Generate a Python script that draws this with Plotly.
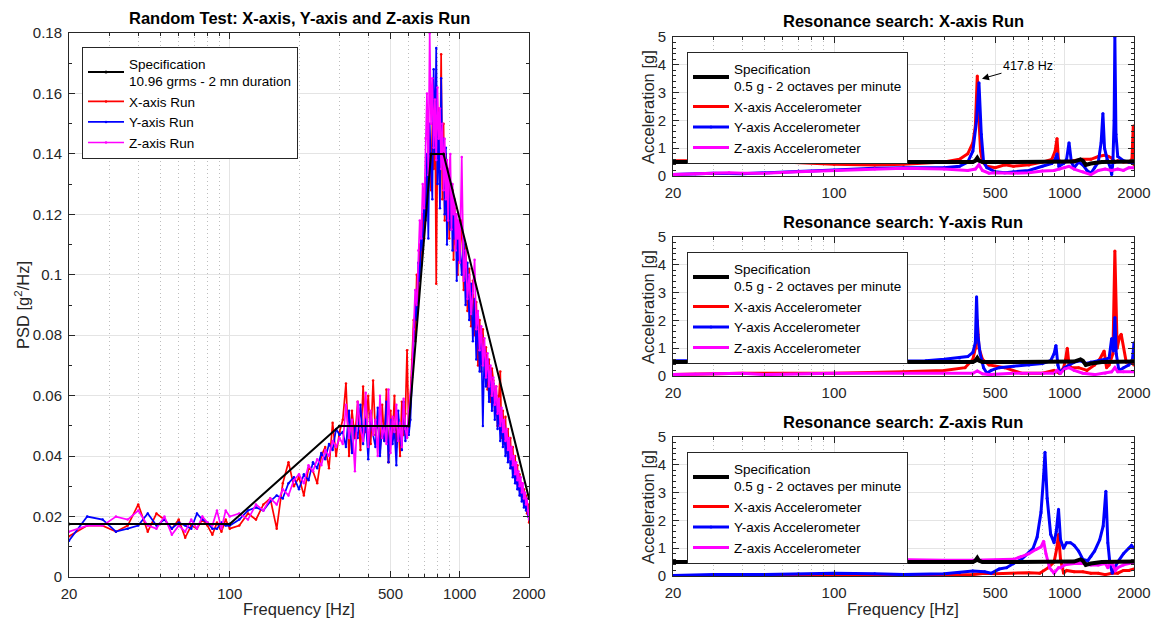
import plotly.graph_objects as go
import math

# ---------------- Random test (PSD) data ----------------
freq_psd = [20, 24, 28, 32, 36, 40, 44, 48, 52, 56, 60, 64, 68, 72, 76, 80, 84, 88, 92, 96, 100,
            110, 120, 130, 140, 150, 160, 170, 180, 190, 200, 210, 220, 230, 240, 250, 260, 270, 280, 290, 300,
            310, 320, 330, 340, 350, 360, 370, 380, 390, 400, 410, 420, 430, 440, 450, 460, 470, 480, 490, 500,
            510, 520, 530, 540, 550, 560, 570, 580, 590, 600,
            610, 620, 630, 640, 650, 660, 670, 680, 690, 700, 710, 720, 730, 740, 750, 760, 770, 780, 790, 800,
            810, 820, 830, 840, 850, 860, 870, 880, 890, 900, 910, 920, 930, 940, 950, 960, 970, 980, 990, 1000,
            1020, 1040, 1060, 1080, 1100, 1120, 1140, 1160, 1180, 1200, 1220, 1240, 1260, 1280, 1300, 1320, 1340,
            1360, 1380, 1400, 1420, 1440, 1460, 1480, 1500, 1520, 1540, 1560, 1580, 1600, 1620, 1640, 1660, 1680,
            1700, 1720, 1740, 1760, 1780, 1800, 1820, 1840, 1860, 1880, 1900, 1920, 1940, 1960, 1980, 2000]

psd_x_run = [0.0135, 0.017, 0.017, 0.015, 0.017, 0.024, 0.015, 0.021, 0.019, 0.016, 0.019, 0.013, 0.017, 0.016, 0.019, 0.017, 0.014, 0.018, 0.015, 0.019, 0.016,
             0.017, 0.021, 0.019, 0.024, 0.026, 0.016, 0.031, 0.038, 0.030, 0.033, 0.027, 0.036, 0.035, 0.031, 0.040, 0.043, 0.036, 0.051, 0.040, 0.048,
             0.052, 0.064, 0.040, 0.055, 0.046, 0.058, 0.042, 0.063, 0.048, 0.060, 0.044, 0.065, 0.047, 0.053, 0.041, 0.057, 0.045, 0.062, 0.038, 0.055,
             0.046, 0.060, 0.043, 0.052, 0.040, 0.058, 0.047, 0.054, 0.075, 0.048,
             0.058, 0.072, 0.085, 0.078, 0.100, 0.092, 0.110, 0.103, 0.120, 0.112, 0.132, 0.125, 0.145, 0.138, 0.128, 0.150, 0.135, 0.160, 0.097, 0.142,
             0.155, 0.130, 0.173, 0.125, 0.150, 0.118, 0.140, 0.128, 0.135, 0.112, 0.130, 0.120, 0.128, 0.105, 0.122, 0.110, 0.118, 0.100, 0.115, 0.108,
             0.118, 0.095, 0.110, 0.088, 0.102, 0.083, 0.098, 0.080, 0.091, 0.070, 0.085, 0.068, 0.082, 0.071, 0.076, 0.062, 0.072,
             0.058, 0.069, 0.065, 0.055, 0.063, 0.050, 0.060, 0.068, 0.046, 0.055, 0.044, 0.053, 0.041, 0.049, 0.040, 0.046, 0.036,
             0.043, 0.034, 0.040, 0.031, 0.037, 0.029, 0.034, 0.027, 0.031, 0.026, 0.029, 0.024, 0.027, 0.021, 0.024, 0.018]

psd_y_run = [0.012, 0.020, 0.019, 0.015, 0.016, 0.017, 0.021, 0.017, 0.019, 0.016, 0.018, 0.017, 0.016, 0.021, 0.019, 0.018, 0.016, 0.016, 0.018, 0.017, 0.017,
             0.019, 0.022, 0.023, 0.022, 0.025, 0.027, 0.026, 0.031, 0.033, 0.029, 0.034, 0.032, 0.038, 0.036, 0.041, 0.039, 0.044, 0.042, 0.049, 0.047,
             0.048, 0.043, 0.055, 0.041, 0.050, 0.046, 0.057, 0.044, 0.052, 0.039, 0.054, 0.047, 0.043, 0.056, 0.040, 0.050, 0.045, 0.058, 0.038, 0.052,
             0.044, 0.049, 0.037, 0.055, 0.046, 0.042, 0.058, 0.045, 0.050, 0.047,
             0.052, 0.066, 0.075, 0.090, 0.085, 0.104, 0.098, 0.115, 0.108, 0.125, 0.118, 0.140, 0.112, 0.150, 0.135, 0.125, 0.168, 0.140, 0.175, 0.130,
             0.150, 0.122, 0.165, 0.138, 0.145, 0.120, 0.142, 0.110, 0.132, 0.125, 0.115, 0.130, 0.108, 0.125, 0.112, 0.120, 0.098, 0.115, 0.105, 0.110,
             0.100, 0.112, 0.090, 0.104, 0.085, 0.097, 0.078, 0.092, 0.072, 0.086, 0.068, 0.080, 0.050, 0.075, 0.063, 0.072, 0.058,
             0.068, 0.055, 0.064, 0.052, 0.060, 0.049, 0.057, 0.045, 0.053, 0.043, 0.050, 0.040, 0.046, 0.038, 0.043, 0.036, 0.040,
             0.033, 0.037, 0.031, 0.035, 0.029, 0.032, 0.027, 0.030, 0.025, 0.028, 0.023, 0.026, 0.022, 0.024, 0.020, 0.021]

psd_z_run = [0.015, 0.017, 0.017, 0.020, 0.019, 0.022, 0.017, 0.016, 0.020, 0.014, 0.017, 0.015, 0.019, 0.016, 0.020, 0.018, 0.017, 0.022, 0.016, 0.022, 0.020,
             0.021, 0.019, 0.024, 0.022, 0.026, 0.024, 0.029, 0.027, 0.032, 0.034, 0.031, 0.037, 0.035, 0.039, 0.037, 0.042, 0.040, 0.045, 0.043, 0.046,
             0.044, 0.057, 0.046, 0.052, 0.035, 0.058, 0.049, 0.045, 0.061, 0.043, 0.055, 0.047, 0.052, 0.040, 0.060, 0.046, 0.050, 0.044, 0.062, 0.041,
             0.053, 0.048, 0.057, 0.045, 0.051, 0.043, 0.059, 0.049, 0.046, 0.055,
             0.060, 0.068, 0.082, 0.095, 0.090, 0.108, 0.118, 0.112, 0.130, 0.122, 0.145, 0.160, 0.133, 0.180, 0.150, 0.165, 0.142, 0.158, 0.138, 0.162,
             0.145, 0.155, 0.135, 0.150, 0.128, 0.145, 0.125, 0.138, 0.118, 0.135, 0.140, 0.115, 0.130, 0.120, 0.125, 0.108, 0.120, 0.112, 0.118, 0.104,
             0.139, 0.098, 0.108, 0.092, 0.100, 0.087, 0.094, 0.105, 0.082, 0.088, 0.075, 0.083, 0.070, 0.079, 0.066, 0.074, 0.063,
             0.070, 0.060, 0.066, 0.057, 0.063, 0.054, 0.059, 0.050, 0.056, 0.048, 0.052, 0.045, 0.049, 0.042, 0.046, 0.039, 0.043,
             0.037, 0.040, 0.034, 0.038, 0.032, 0.035, 0.030, 0.033, 0.028, 0.031, 0.026, 0.028, 0.024, 0.026, 0.022, 0.019]

spec_psd_f = [20, 100, 300, 600, 750, 850, 2000]
spec_psd_v = [0.0175, 0.0175, 0.05, 0.05, 0.14, 0.14, 0.026]

# ---------------- Sine sweep (resonance search) data ----------------
spec_sine_f = [20, 400, 410, 418, 425, 440, 1100, 1172, 1200, 1235, 1300, 1450, 2000]
spec_sine_a = [0.5, 0.5, 0.55, 0.65, 0.55, 0.5, 0.52, 0.6, 0.55, 0.4, 0.45, 0.5, 0.52]

# X-axis run
xr_x_f = [20, 30, 40, 60, 100, 150, 200, 300, 350, 380, 400, 410, 418, 425, 432, 440, 460, 500, 550, 600,
          700, 800, 880, 910, 927, 940, 960, 1000, 1100, 1200, 1300, 1400, 1500, 1550, 1600, 1652, 1700, 1800, 1900, 1960,
          1985, 2000]
xr_x_a = [0.55, 0.56, 0.55, 0.5, 0.42, 0.4, 0.42, 0.5, 0.6, 0.8, 1.2, 1.8, 3.6, 2.0, 0.9, 0.5, 0.35, 0.3, 0.4, 0.35,
          0.4, 0.5, 0.6, 0.9, 1.35, 0.6, 0.5, 0.5, 0.55, 0.6, 0.6, 0.7, 0.75, 0.7, 0.65, 0.5, 0.55, 0.5, 0.5, 0.6,
          1.8, 0.4]
xr_y_f = [20, 25, 30, 40, 50, 70, 100, 150, 200, 300, 350, 380, 400, 415, 425, 435, 445, 460, 500, 550,
          600, 700, 800, 880, 910, 927, 945, 990, 1020, 1045, 1070, 1100, 1150, 1200, 1250, 1300, 1350, 1400, 1440, 1466,
          1490, 1530, 1580, 1600, 1620, 1640, 1652, 1670, 1700, 1800, 1900, 2000]
xr_y_a = [0.05, 0.08, 0.1, 0.08, 0.12, 0.18, 0.22, 0.28, 0.3, 0.3, 0.35, 0.5, 0.9, 2.0, 3.35, 1.5, 0.5, 0.3, 0.15, 0.12,
          0.15, 0.2, 0.35, 0.45, 0.6, 0.8, 0.35, 0.45, 0.6, 1.2, 0.5, 0.3, 0.5, 0.4, 0.2, 0.1, 0.3, 0.5, 1.2, 2.25,
          1.0, 0.6, 0.3, 0.05, 0.5, 2.0, 5.0, 1.5, 0.7, 0.55, 0.5, 0.45]
xr_z_f = [20, 25, 30, 35, 40, 50, 70, 100, 150, 200, 300, 380, 410, 425, 440, 470, 500, 600, 700, 800,
          900, 950, 1000, 1045, 1100, 1200, 1300, 1400, 1500, 1600, 1700, 1800, 1900, 2000]
xr_z_a = [0.05, 0.08, 0.1, 0.12, 0.1, 0.1, 0.15, 0.2, 0.25, 0.28, 0.25, 0.2, 0.25, 0.4, 0.2, 0.1, 0.12, 0.1, 0.12, 0.18,
          0.2, 0.25, 0.3, 0.35, 0.25, 0.15, 0.05, 0.2, 0.25, 0.2, 0.25, 0.2, 0.3, 0.3]

# Y-axis run
yr_x_f = [20, 30, 40, 60, 100, 200, 300, 370, 400, 410, 418, 425, 440, 470, 550, 650, 800, 900, 950, 990,
          1010, 1027, 1045, 1070, 1150, 1250, 1350, 1420, 1484, 1520, 1560, 1620, 1652, 1690, 1730, 1760, 1850, 1950, 2000]
yr_x_a = [0.05, 0.08, 0.1, 0.1, 0.1, 0.15, 0.2, 0.3, 0.6, 1.0, 2.0, 1.0, 0.6, 0.4, 0.3, 0.1, 0.1, 0.2, 0.1, 0.3,
          0.6, 1.0, 0.4, 0.3, 0.3, 0.2, 0.4, 0.6, 0.9, 0.3, 0.4, 0.8, 4.5, 1.0, 1.4, 1.5, 0.5, 0.5, 0.4]
yr_y_f = [20, 30, 50, 100, 200, 250, 300, 350, 380, 400, 410, 415, 420, 430, 445, 460, 480, 520, 600, 700,
          800, 870, 900, 917, 935, 955, 1000, 1100, 1172, 1235, 1300, 1400, 1500, 1560, 1600, 1630, 1652, 1675, 1720, 1800,
          1900, 1970, 2000]
yr_y_a = [0.55, 0.56, 0.55, 0.5, 0.52, 0.55, 0.6, 0.65, 0.7, 0.85, 1.2, 2.85, 1.5, 0.8, 0.3, 0.1, 0.2, 0.3, 0.35, 0.4,
          0.45, 0.55, 0.8, 1.1, 0.4, 0.1, 0.3, 0.5, 0.55, 0.45, 0.5, 0.55, 0.6, 0.65, 1.35, 0.9, 2.1, 0.8, 0.2, 0.3,
          0.4, 0.6, 1.2]
yr_z_f = [20, 25, 30, 40, 50, 60, 100, 200, 300, 400, 418, 440, 470, 600, 800, 900, 927, 960, 1000, 1045,
          1100, 1200, 1350, 1500, 1600, 1652, 1700, 1800, 2000]
yr_z_a = [0.05, 0.07, 0.1, 0.1, 0.05, 0.06, 0.1, 0.1, 0.1, 0.1, 0.18, 0.08, 0.05, 0.1, 0.1, 0.1, 0.2, 0.1, 0.25, 0.3,
          0.2, 0.1, 0.05, 0.1, 0.15, 0.3, 0.15, 0.15, 0.15]

# Z-axis run
zr_x_f = [20, 100, 200, 300, 400, 450, 500, 600, 700, 780, 850, 900, 925, 941, 960, 990, 1020, 1100, 1200, 1300,
          1400, 1500, 1600, 1700, 1800, 1900, 2000]
zr_x_a = [0.02, 0.02, 0.02, 0.02, 0.05, 0.1, 0.08, 0.1, 0.12, 0.1, 0.3, 0.5, 1.0, 1.5, 0.6, 0.1, 0.2, 0.15, 0.15, 0.1,
          0.1, 0.05, 0.1, 0.1, 0.2, 0.2, 0.25]
zr_y_f = [20, 30, 50, 70, 100, 150, 200, 300, 350, 400, 450, 480, 520, 560, 600, 650, 700, 730, 760, 790,
          811, 822, 840, 870, 900, 920, 941, 960, 990, 1020, 1060, 1100, 1150, 1200, 1260, 1300, 1350, 1420, 1470, 1510,
          1540, 1570, 1610, 1650, 1700, 1800, 1900, 1950, 2000]
zr_y_a = [0.02, 0.05, 0.05, 0.08, 0.1, 0.08, 0.05, 0.08, 0.12, 0.18, 0.15, 0.1, 0.25, 0.3, 0.45, 0.6, 0.85, 1.0, 1.4, 2.3,
          3.6, 4.45, 2.8, 1.5, 1.2, 1.6, 2.4, 1.3, 1.0, 1.2, 1.2, 1.1, 0.9, 0.6, 0.55, 0.7, 0.9, 1.3, 1.8, 3.05,
          1.2, 0.5, 0.1, 0.3, 0.5, 0.8, 1.0, 1.1, 1.0]
zr_z_f = [20, 30, 50, 60, 80, 100, 150, 200, 300, 400, 500, 600, 650, 700, 750, 790, 811, 830, 860, 880,
          900, 941, 960, 1000, 1100, 1200, 1300, 1400, 1500, 1540, 1580, 1620, 1660, 1700, 1800, 1900, 2000]
zr_z_a = [0.5, 0.5, 0.52, 0.58, 0.6, 0.62, 0.6, 0.58, 0.57, 0.57, 0.58, 0.6, 0.7, 0.8, 0.95, 1.05, 1.25, 0.8, 0.3, 0.2,
          0.1, 0.3, 0.3, 0.4, 0.45, 0.45, 0.4, 0.4, 0.45, 0.3, 0.5, 0.4, 0.2, 0.3, 0.4, 0.45, 0.5]

x_tickvals = [20, 100, 500, 1000, 2000]
x_ticktext = ["20", "100", "500", "1000", "2000"]
x_minor = [30, 40, 50, 60, 70, 80, 90, 200, 300, 400, 600, 700, 800, 900]

RED, BLUE, MAG, BLACK = "#ff0000", "#0000ff", "#ff00ff", "#000000"
AX = "#262626"
FONT = "Liberation Sans, Arial, Helvetica, sans-serif"

W, H = 1156, 623

def px_x(p):
    return p / W

def px_y(p):
    return 1 - p / H

fig = go.Figure()

# ---------- left panel ----------
for name, vals, col in [("X-axis Run", psd_x_run, RED), ("Y-axis Run", psd_y_run, BLUE), ("Z-axis Run", psd_z_run, MAG)]:
    fig.add_trace(go.Scatter(x=freq_psd, y=vals, name=name, mode="lines+markers",
                             line=dict(color=col, width=1.7), marker=dict(size=2.5, color=col),
                             xaxis="x", yaxis="y", legend="legend", legendrank=2))
fig.add_trace(go.Scatter(x=spec_psd_f, y=spec_psd_v, name="Specification<br>10.96 grms - 2 mn duration",
                         mode="lines+markers", line=dict(color=BLACK, width=2), marker=dict(size=3, color=BLACK),
                         xaxis="x", yaxis="y", legend="legend", legendrank=1))

# ---------- right panels ----------
panels = [
    (2, "legend2", [(xr_x_f, xr_x_a), (xr_y_f, xr_y_a), (xr_z_f, xr_z_a)]),
    (3, "legend3", [(yr_x_f, yr_x_a), (yr_y_f, yr_y_a), (yr_z_f, yr_z_a)]),
    (4, "legend4", [(zr_x_f, zr_x_a), (zr_y_f, zr_y_a), (zr_z_f, zr_z_a)]),
]
names = ["X-axis Accelerometer", "Y-axis Accelerometer", "Z-axis Accelerometer"]
cols = [RED, BLUE, MAG]
for idx, leg, series in panels:
    for (f, a), nm, col in zip(series, names, cols):
        fig.add_trace(go.Scatter(x=f, y=a, name=nm, mode="lines+markers",
                                 line=dict(color=col, width=3), marker=dict(size=3, color=col),
                                 xaxis=f"x{idx}", yaxis=f"y{idx}", legend=leg, legendrank=2))
    fig.add_trace(go.Scatter(x=spec_sine_f, y=spec_sine_a, name="Specification<br>0.5 g - 2 octaves per minute",
                             mode="lines+markers", line=dict(color=BLACK, width=4), marker=dict(size=3, color=BLACK),
                             xaxis=f"x{idx}", yaxis=f"y{idx}", legend=leg, legendrank=1))

def xaxis(domain, anchor):
    return dict(type="log", domain=domain, anchor=anchor, automargin=False,
                range=[math.log10(20), math.log10(2000)],
                tickmode="array", tickvals=x_tickvals, ticktext=x_ticktext,
                ticks="inside", ticklen=6, tickcolor=AX, tickwidth=1, ticklabelstandoff=3,
                showline=True, linecolor=AX, linewidth=1, mirror="ticks",
                showgrid=True, gridcolor="#e4e4e4", gridwidth=1, zeroline=False,
                tickfont=dict(size=15, color=AX, family=FONT),
                minor=dict(tickmode="array", tickvals=x_minor, ticks="inside", ticklen=3,
                           tickcolor=AX, showgrid=True, gridcolor="#bdbdbd", griddash="1px,3px", gridwidth=1))

def yaxis(domain, anchor, rng, dtick, minor_dtick):
    return dict(domain=domain, anchor=anchor, range=rng, dtick=dtick, tick0=0, automargin=False,
                ticks="inside", ticklen=6, tickcolor=AX, tickwidth=1, ticklabelstandoff=3,
                showline=True, linecolor=AX, linewidth=1, mirror="ticks",
                showgrid=True, gridcolor="#e4e4e4", gridwidth=1, zeroline=False,
                tickfont=dict(size=15, color=AX, family=FONT),
                minor=dict(dtick=minor_dtick, tick0=0, ticks="inside", ticklen=3, tickcolor=AX, showgrid=False))

left_x = [px_x(69), px_x(529)]
right_x = [px_x(673), px_x(1134)]
dom_left_y = [px_y(577), px_y(33)]
dom_p1 = [px_y(176), px_y(37)]
dom_p2 = [px_y(376), px_y(237)]
dom_p3 = [px_y(576), px_y(437)]

legend_common = dict(bgcolor="white", bordercolor=AX, borderwidth=1,
                     font=dict(size=13.5, color="#000000", family=FONT),
                     xanchor="left", yanchor="top", itemwidth=36, tracegroupgap=0,
                     itemclick=False, itemdoubleclick=False)

fig.update_layout(
    width=W, height=H, autosize=False,
    margin=dict(l=0, r=0, t=0, b=0, autoexpand=False),
    paper_bgcolor="white", plot_bgcolor="white",
    font=dict(family=FONT, color=AX),
    xaxis=xaxis(left_x, "y"),
    yaxis=yaxis(dom_left_y, "x", [0, 0.18], 0.02, 0.01),
    xaxis2=xaxis(right_x, "y2"),
    yaxis2=yaxis(dom_p1, "x2", [0, 5], 1, 0.2),
    xaxis3=xaxis(right_x, "y3"),
    yaxis3=yaxis(dom_p2, "x3", [0, 5], 1, 0.2),
    xaxis4=xaxis(right_x, "y4"),
    yaxis4=yaxis(dom_p3, "x4", [0, 5], 1, 0.2),
    legend=dict(x=px_x(82), y=px_y(47), **legend_common),
    legend2=dict(x=px_x(687), y=px_y(52), **legend_common),
    legend3=dict(x=px_x(687), y=px_y(252), **legend_common),
    legend4=dict(x=px_x(687), y=px_y(452), **legend_common),
    showlegend=True,
)

ann = []
title_font = dict(size=16.5, color="#000000", family=FONT)
for text, cx, cy in [("Random Test: X-axis, Y-axis and Z-axis Run", 299, 18),
                     ("Resonance search: X-axis Run", 903, 21),
                     ("Resonance search: Y-axis Run", 903, 222),
                     ("Resonance search: Z-axis Run", 903, 422)]:
    ann.append(dict(text=f"<b>{text}</b>", x=px_x(cx), y=px_y(cy), xref="paper", yref="paper",
                    xanchor="center", yanchor="middle", showarrow=False, font=title_font))
lab_font = dict(size=16.5, color=AX, family=FONT)
ann.append(dict(text="Frequency [Hz]", x=px_x(299), y=px_y(609), xref="paper", yref="paper",
                xanchor="center", yanchor="middle", showarrow=False, font=lab_font))
ann.append(dict(text="Frequency [Hz]", x=px_x(903), y=px_y(609), xref="paper", yref="paper",
                xanchor="center", yanchor="middle", showarrow=False, font=lab_font))
ann.append(dict(text="PSD [g<sup>2</sup>/Hz]", x=px_x(22), y=px_y(305), xref="paper", yref="paper",
                xanchor="center", yanchor="middle", textangle=-90, showarrow=False, font=lab_font))
for cy in [107, 307, 507]:
    ann.append(dict(text="Acceleration [g]", x=px_x(648), y=px_y(cy), xref="paper", yref="paper",
                    xanchor="center", yanchor="middle", textangle=-90, showarrow=False, font=lab_font))
# peak label
ann.append(dict(text="417.8 Hz", x=math.log10(438), y=3.5, xref="x2", yref="y2",
                ax=46, ay=-13, showarrow=True, arrowhead=2, arrowsize=1.4, arrowwidth=1,
                arrowcolor="#000000", font=dict(size=12.5, color="#000000", family=FONT)))
fig.update_layout(annotations=ann)

fig.write_html("out.html", config={"displayModeBar": False})
